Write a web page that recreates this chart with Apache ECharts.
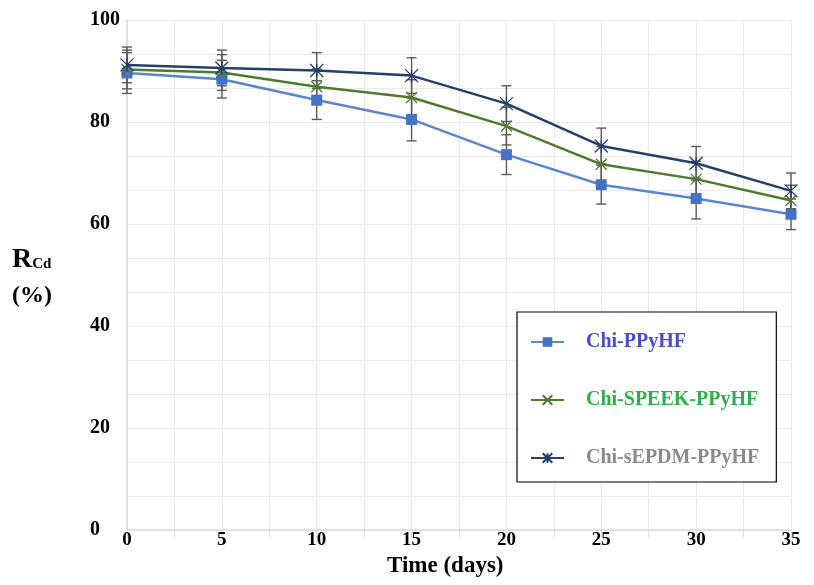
<!DOCTYPE html>
<html>
<head>
<meta charset="utf-8">
<script src="https://cdn.jsdelivr.net/npm/echarts@6/dist/echarts.min.js"></script>
<style>
html,body{margin:0;padding:0;background:#fff}
#main{width:814px;height:585px}
</style>
</head>
<body>
<div id="main"></div>
<script>
// days on the x axis
var days = [0, 5, 10, 15, 20, 25, 30, 35];
// series names
var seriesNames = ['Chi-PPyHF', 'Chi-SPEEK-PPyHF', 'Chi-sEPDM-PPyHF'];
// Rcd values (%) and their error (+/-)
var ppyhf = [89.6, 88.4, 84.3, 80.5, 73.6, 67.7, 65.0, 61.9];
var ppyhfErr = [4.0, 3.7, 3.8, 4.2, 3.9, 3.8, 4.0, 3.0];
var speek = [90.3, 89.7, 86.9, 84.8, 79.2, 71.7, 68.8, 64.6];
var speekErr = [3.8, 3.5, 3.5, 3.5, 3.7, 3.5, 3.5, 3.0];
var sepdm = [91.2, 90.6, 90.1, 89.1, 83.6, 75.3, 71.9, 66.5];
var sepdmErr = [3.5, 3.5, 3.5, 3.5, 3.5, 3.5, 3.3, 3.5];

var labelFont = 'Liberation Serif';
var colors = ['#4472c4', '#4e7a2c', '#243f6b'];
var textColors = ['#4a4ad4', '#2db04a', '#8a8a8a'];

function pairs(vals) {
  return days.map(function (d, i) { return [d, vals[i]]; });
}
function bars(vals, errs) {
  return days.map(function (d, i) { return [d, vals[i] - errs[i], vals[i] + errs[i]]; });
}
function renderErr(params, api) {
  var lo = api.coord([api.value(0), api.value(1)]);
  var hi = api.coord([api.value(0), api.value(2)]);
  var w = 5;
  var st = { stroke: '#5a5a5a', lineWidth: 1.4 };
  return {
    type: 'group',
    children: [
      { type: 'line', shape: { x1: lo[0], y1: lo[1], x2: hi[0], y2: hi[1] }, style: st },
      { type: 'line', shape: { x1: lo[0] - w, y1: lo[1], x2: lo[0] + w, y2: lo[1] }, style: st },
      { type: 'line', shape: { x1: hi[0] - w, y1: hi[1], x2: hi[0] + w, y2: hi[1] }, style: st }
    ]
  };
}

var myChart = echarts.init(document.getElementById('main'));
var gridColor = '#e9e9e9';

var option = {
  animation: false,
  backgroundColor: '#fff',
  grid: { left: 127, right: 23, top: 20, bottom: 55 },
  xAxis: {
    type: 'value', min: 0, max: 35, interval: 5,
    axisLine: { show: true, lineStyle: { color: '#d9d9d9', width: 1.5 } },
    axisTick: { show: true, length: 8, lineStyle: { color: '#e0e0e0' } },
    minorTick: { show: true, splitNumber: 2, length: 8, lineStyle: { color: '#e0e0e0' } },
    splitLine: { show: true, lineStyle: { color: gridColor } },
    minorSplitLine: { show: true, lineStyle: { color: gridColor } },
    axisLabel: { color: '#000', fontFamily: labelFont, fontWeight: 'bold', fontSize: 19, margin: 1 }
  },
  yAxis: {
    type: 'value', min: 0, max: 100, interval: 20,
    axisLine: { show: true, lineStyle: { color: '#d9d9d9', width: 1.5 } },
    axisTick: { show: false },
    minorTick: { show: false, splitNumber: 3 },
    splitLine: { show: true, lineStyle: { color: gridColor } },
    minorSplitLine: { show: true, lineStyle: { color: gridColor } },
    axisLabel: { color: '#000', fontFamily: labelFont, fontWeight: 'bold', fontSize: 20, margin: 37, align: 'left' }
  },
  legend: {
    orient: 'vertical',
    left: 517, top: 312,
    padding: [20, 17, 14, 13],
    itemGap: 38,
    itemWidth: 33, itemHeight: 12,
    borderColor: '#000', borderWidth: 1.2,
    backgroundColor: '#fff',
    textStyle: { fontFamily: labelFont, fontWeight: 'bold', fontSize: 20, padding: [0, 0, 0, 17] },
    data: seriesNames.map(function (n, i) {
      return { name: n, textStyle: { color: textColors[i] } };
    })
  },
  graphic: [
    {
      type: 'text', left: 12, top: 246,
      style: {
        text: '{r|R}{s|Cd}',
        rich: {
          r: { fontFamily: labelFont, fontWeight: 'bold', fontSize: 28, fill: '#000' },
          s: { fontFamily: labelFont, fontWeight: 'bold', fontSize: 15, fill: '#000', padding: [8, 0, 0, 0] }
        }
      }
    },
    {
      type: 'text', left: 12, top: 284,
      style: { text: '(%)', fontFamily: labelFont, fontWeight: 'bold', fontSize: 24, fill: '#000' }
    },
    {
      type: 'text', left: 387, top: 555,
      style: { text: 'Time (days)', fontFamily: labelFont, fontWeight: 'bold', fontSize: 23, fill: '#000' }
    }
  ],
  series: [
    { type: 'custom', name: 'err1', renderItem: renderErr, data: bars(ppyhf, ppyhfErr), encode: { x: 0, y: [1, 2] }, z: 1 },
    { type: 'custom', name: 'err2', renderItem: renderErr, data: bars(speek, speekErr), encode: { x: 0, y: [1, 2] }, z: 1 },
    { type: 'custom', name: 'err3', renderItem: renderErr, data: bars(sepdm, sepdmErr), encode: { x: 0, y: [1, 2] }, z: 1 },
    {
      type: 'line', name: seriesNames[0], data: pairs(ppyhf), z: 3,
      symbol: 'rect', symbolSize: 11,
      lineStyle: { color: '#5a86cc', width: 2.5 },
      itemStyle: { color: colors[0] }
    },
    {
      type: 'line', name: seriesNames[1], data: pairs(speek), z: 3,
      symbol: 'path://M0,0L10,10M10,0L0,10', symbolSize: 11,
      lineStyle: { color: colors[1], width: 2.5 },
      itemStyle: { color: colors[1], borderColor: colors[1], borderWidth: 1.3 }
    },
    {
      type: 'line', name: seriesNames[2], data: pairs(sepdm), z: 4,
      symbol: 'path://M0,0L10,10M10,0L0,10M5,0L5,10', symbolSize: 13,
      lineStyle: { color: colors[2], width: 2.5 },
      itemStyle: { color: colors[2], borderColor: colors[2], borderWidth: 1.3 }
    }
  ]
};
myChart.setOption(option);
</script>
</body>
</html>
